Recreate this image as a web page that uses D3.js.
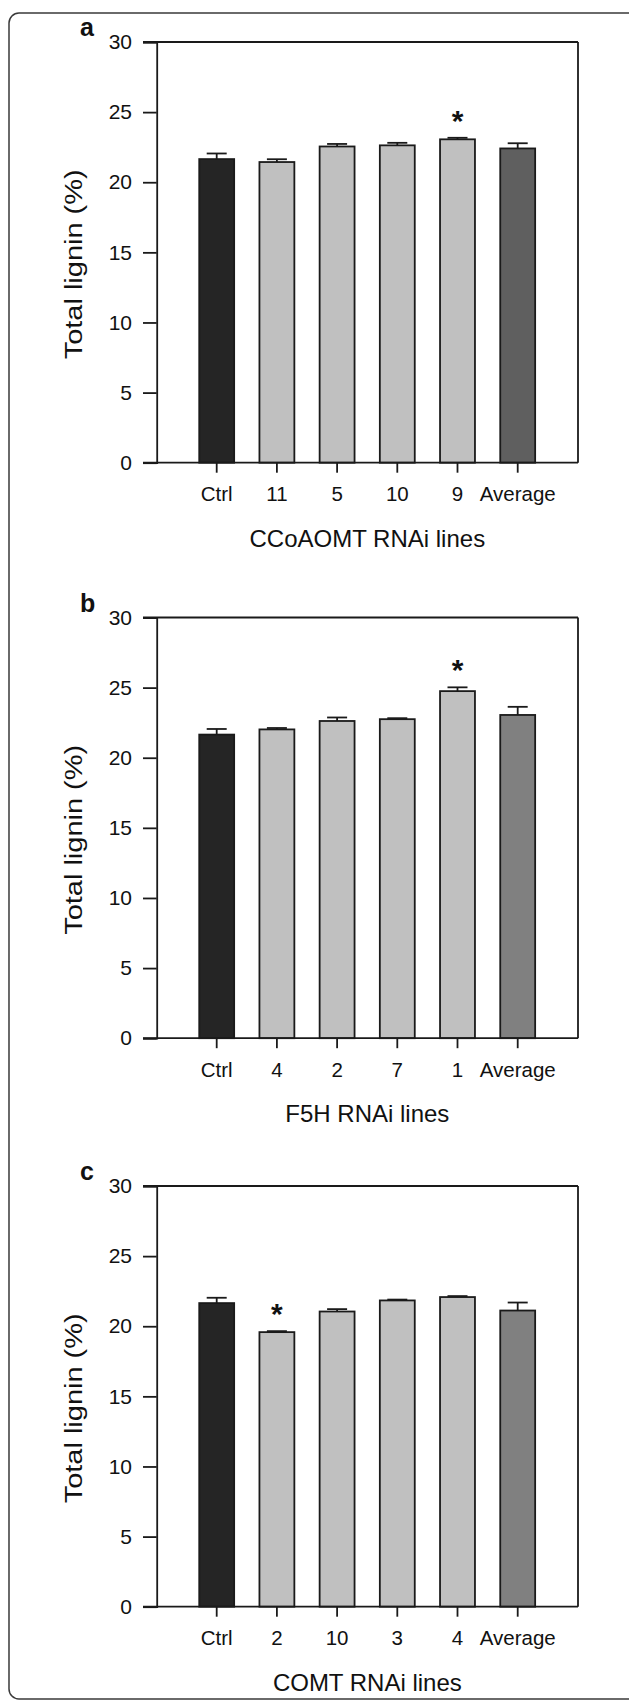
<!DOCTYPE html>
<html>
<head>
<meta charset="utf-8">
<script src="https://cdn.jsdelivr.net/npm/d3@7"></script>
<style>
  html, body { margin: 0; padding: 0; background: #fff; }
  svg { display: block; }
  text { font-family: "Liberation Sans", Arial, Helvetica, sans-serif; fill: #111; }
</style>
</head>
<body>
<svg id="chart" width="629" height="1702"></svg>
<script>
// ---- data ----
const categoriesA = ["Ctrl", "11", "5", "10", "9", "Average"];
const valuesA = [21.65, 21.44, 22.55, 22.63, 23.06, 22.41];
const errorsA = [0.40, 0.20, 0.18, 0.18, 0.11, 0.37];
const significantA = [false, false, false, false, true, false];

const categoriesB = ["Ctrl", "4", "2", "7", "1", "Average"];
const valuesB = [21.65, 22.02, 22.62, 22.75, 24.75, 23.05];
const errorsB = [0.40, 0.10, 0.25, 0.07, 0.27, 0.58];
const significantB = [false, false, false, false, true, false];

const categoriesC = ["Ctrl", "2", "10", "3", "4", "Average"];
const valuesC = [21.65, 19.58, 21.05, 21.84, 22.08, 21.12];
const errorsC = [0.38, 0.07, 0.17, 0.06, 0.07, 0.57];
const significantC = [false, true, false, false, false, false];

const yTicks = [0, 5, 10, 15, 20, 25, 30];
const panelLetters = ["a", "b", "c"];
const xTitles = ["CCoAOMT RNAi lines", "F5H RNAi lines", "COMT RNAi lines"];
const yTitle = "Total lignin (%)";

// ---- layout ----
const svg = d3.select("#chart");

svg.append("rect")
  .attr("x", 9).attr("y", 13)
  .attr("width", 630).attr("height", 1686)
  .attr("rx", 10).attr("ry", 10)
  .attr("fill", "none").attr("stroke", "#3a3a3a").attr("stroke-width", 1.5);

const panels = [
  { top: 42,     cats: categoriesA, vals: valuesA, errs: errorsA, sig: significantA, avgColor: "#5f5f5f" },
  { top: 617.5,  cats: categoriesB, vals: valuesB, errs: errorsB, sig: significantB, avgColor: "#808080" },
  { top: 1186,   cats: categoriesC, vals: valuesC, errs: errorsC, sig: significantC, avgColor: "#808080" }
];

const plotH = 420.7;
const axisX = 156.7, frameRight = 578, lineLeft = 143;
const ink = "#1a1a1a";

panels.forEach((p, pi) => {
  const g = svg.append("g");
  const y = d3.scaleLinear().domain([0, 30]).range([p.top + plotH, p.top]);
  const x = d3.scaleBand().domain(p.cats).range([186.6, 547.8]).paddingInner(0.42).paddingOuter(0.21);

  const y0 = y(0), y30 = y(30);

  // bars
  g.selectAll("rect.bar").data(p.cats).join("rect")
    .attr("class", "bar")
    .attr("x", d => x(d))
    .attr("width", x.bandwidth())
    .attr("y", (d, i) => y(p.vals[i]))
    .attr("height", (d, i) => y0 - y(p.vals[i]))
    .attr("fill", (d, i) => i === 0 ? "#252525" : (i === p.cats.length - 1 ? p.avgColor : "#c0c0c0"))
    .attr("stroke", ink).attr("stroke-width", 1.8);

  // error bars
  const eb = g.selectAll("g.err").data(p.cats).join("g").attr("class", "err");
  eb.append("line")
    .attr("x1", d => x(d) + x.bandwidth() / 2).attr("x2", d => x(d) + x.bandwidth() / 2)
    .attr("y1", (d, i) => y(p.vals[i])).attr("y2", (d, i) => y(p.vals[i] + p.errs[i]))
    .attr("stroke", ink).attr("stroke-width", 1.8);
  eb.append("line")
    .attr("x1", d => x(d) + x.bandwidth() / 2 - 10).attr("x2", d => x(d) + x.bandwidth() / 2 + 10)
    .attr("y1", (d, i) => y(p.vals[i] + p.errs[i])).attr("y2", (d, i) => y(p.vals[i] + p.errs[i]))
    .attr("stroke", ink).attr("stroke-width", 1.8);

  // significance asterisks
  g.selectAll("text.sig").data(p.cats.filter((d, i) => p.sig[i])).join("text")
    .attr("class", "sig")
    .attr("x", d => x(d) + x.bandwidth() / 2)
    .attr("y", d => { const i = p.cats.indexOf(d); return y(p.vals[i] + p.errs[i]) - 7; })
    .attr("text-anchor", "middle")
    .attr("font-size", 30).attr("font-weight", "bold")
    .text("*");

  // frame: top and right lines
  g.append("line").attr("x1", lineLeft).attr("x2", frameRight).attr("y1", y30).attr("y2", y30)
    .attr("stroke", ink).attr("stroke-width", 1.8);
  g.append("line").attr("x1", frameRight).attr("x2", frameRight).attr("y1", y30).attr("y2", y0)
    .attr("stroke", ink).attr("stroke-width", 1.8);

  // y axis
  const yAxis = d3.axisLeft(y).tickValues(yTicks).tickSize(axisX - lineLeft).tickPadding(11).tickFormat(d3.format("d"));
  const ya = g.append("g").attr("transform", `translate(${axisX},0)`).call(yAxis);
  ya.select(".domain").attr("stroke", ink).attr("stroke-width", 1.8);
  ya.selectAll(".tick line").attr("stroke", ink).attr("stroke-width", 1.8);
  ya.selectAll(".tick text").attr("font-size", 21).attr("fill", "#111");

  // x axis
  const xAxis = d3.axisBottom(x).tickSize(10).tickPadding(14).tickSizeOuter(0);
  const xa = g.append("g").attr("transform", `translate(0,${y0})`).call(xAxis);
  xa.select(".domain").remove();
  xa.append("line").attr("x1", lineLeft).attr("x2", frameRight).attr("y1", 0).attr("y2", 0)
    .attr("stroke", ink).attr("stroke-width", 1.8);
  xa.selectAll(".tick line").attr("stroke", ink).attr("stroke-width", 1.8);
  xa.selectAll(".tick text").attr("font-size", 20.5).attr("fill", "#111");

  // x title
  g.append("text")
    .attr("x", (axisX + frameRight) / 2)
    .attr("y", y0 + 84)
    .attr("text-anchor", "middle")
    .attr("font-size", 24)
    .text(xTitles[pi]);

  // y title
  g.append("text")
    .attr("transform", `translate(82,${(y0 + y30) / 2 + 12}) rotate(-90)`)
    .attr("text-anchor", "middle")
    .attr("font-size", 23)
    .attr("textLength", 190)
    .attr("lengthAdjust", "spacingAndGlyphs")
    .text(yTitle);

  // panel letter
  g.append("text")
    .attr("x", 80)
    .attr("y", y30 - 6)
    .attr("font-size", 25).attr("font-weight", "bold")
    .text(panelLetters[pi]);
});
</script>
</body>
</html>
